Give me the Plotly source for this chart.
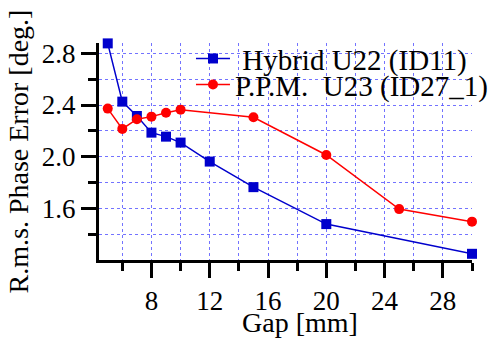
import plotly.graph_objects as go

gap_hybrid = [5, 6, 7, 8, 9, 10, 12, 15, 20, 30]
err_hybrid = [2.877, 2.426, 2.315, 2.186, 2.155, 2.109, 1.962, 1.764, 1.478, 1.248]
gap_ppm = [5, 6, 7, 8, 9, 10, 15, 20, 25, 30]
err_ppm = [2.372, 2.215, 2.29, 2.31, 2.34, 2.364, 2.305, 2.013, 1.594, 1.497]

x_major = [8, 12, 16, 20, 24, 28]
x_minor = [6, 10, 14, 18, 22, 26, 30]
y_major = [1.6, 2.0, 2.4, 2.8]
y_minor = [1.4, 1.8, 2.2, 2.6]

FONT = "Liberation Serif"
GRID = "rgba(90,90,255,0.85)"

fig = go.Figure()
fig.add_trace(go.Scatter(
    x=gap_hybrid, y=err_hybrid, mode="lines+markers", name="\u00a0Hybrid U22 (ID11)",
    line=dict(color="#0000cc", width=1.5),
    marker=dict(symbol="square", size=10, color="#0000cc"), cliponaxis=False,
    legend="legend"))
fig.add_trace(go.Scatter(
    x=gap_ppm, y=err_ppm, mode="lines+markers", name="P.P.M.  U23 (ID27_1)",
    line=dict(color="#ff0000", width=1.5),
    marker=dict(symbol="circle", size=10, color="#ff0000"), cliponaxis=False,
    legend="legend2"))

axis_common = dict(
    showline=True, linecolor="black", linewidth=3, mirror=False,
    ticks="outside", tickwidth=3, tickcolor="black",
    showgrid=True, gridcolor=GRID, gridwidth=1, griddash="3px,3px",
    zeroline=False, tickfont=dict(family=FONT, size=27, color="black"),
)

fig.update_xaxes(
    range=[4.4, 30], tickmode="array", tickvals=x_major,
    ticktext=[str(v) for v in x_major], ticklen=15,
    minor=dict(tickmode="array", tickvals=x_minor, ticklen=8, tickwidth=3,
               tickcolor="black", showgrid=True, gridcolor=GRID, gridwidth=1,
               griddash="3px,3px"),
    **axis_common)
fig.update_yaxes(
    range=[1.2, 2.88], tickmode="array", tickvals=y_major,
    ticktext=["%.1f" % v for v in y_major], ticklen=15,
    minor=dict(tickmode="array", tickvals=y_minor, ticklen=8, tickwidth=3,
               tickcolor="black", showgrid=True, gridcolor=GRID, gridwidth=1,
               griddash="3px,3px"),
    title=dict(text="R.m.s. Phase Error [deg.]", font=dict(family=FONT, size=28, color="black"), standoff=6),
    **axis_common)

legend_common = dict(xanchor="left", yanchor="middle", bgcolor="rgba(0,0,0,0)",
                     borderwidth=0, font=dict(family=FONT, size=29, color="black"),
                     itemwidth=34)

fig.update_layout(
    width=494, height=338,
    margin=dict(l=99, r=22, t=43, b=78, autoexpand=False),
    plot_bgcolor="white", paper_bgcolor="white",
    showlegend=True,
    legend=dict(x=0.2466, y=0.928, **legend_common),
    legend2=dict(x=0.2466, y=0.808, **legend_common),
    shapes=[dict(type="rect", xref="paper", yref="paper", x0=0.2306, x1=0.922,
                 y0=0.7465, y1=1.0, fillcolor="white", line=dict(width=0),
                 layer="between")],
    annotations=[dict(text="Gap [mm]", xref="paper", yref="paper", x=0.539, y=0,
                      xanchor="center", yanchor="middle", yshift=-62, showarrow=False,
                      font=dict(family=FONT, size=28, color="black"))],
)

fig.write_html("out.html")
